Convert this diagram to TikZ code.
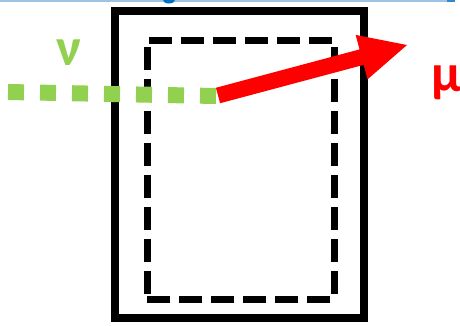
\documentclass[tikz,border=0pt]{standalone}
\usepackage{fontspec}
\setmainfont{Carlito}
\usetikzlibrary{calc}
\definecolor{nugreen}{RGB}{146,208,80}
\definecolor{mured}{RGB}{255,0,0}
\definecolor{toplight}{RGB}{157,195,230}
\definecolor{topblue}{RGB}{0,112,192}
\tikzset{
  outerbox/.style={draw=black, line width=7.5pt, rectangle, inner sep=0pt, fill=none},
  innerbox/.style={draw=black, line width=7pt, rectangle, inner sep=0pt, dash pattern=on 23pt off 9pt},
  nuline/.style={draw=nugreen, line width=16pt, dash pattern=on 16pt off 16pt},
  lbl/.style={inner sep=0pt, font=\fontsize{53}{55}\selectfont\bfseries},
}
\begin{document}
\begin{tikzpicture}[x=1pt,y=-1pt]
\useasboundingbox (0,0) rectangle (460,325);
\clip (0,0) rectangle (460,325);
% cropped fragments at the top edge
\fill[toplight] (0,0) rectangle (455,1.6);
\fill[topblue] (163,0) arc[start angle=180, end angle=360, x radius=6pt, y radius=3.5pt] -- cycle;
\fill[topblue!70!toplight] (447,0) rectangle (455,1.6);
% detector boxes
\node[outerbox, minimum width=249pt, minimum height=307pt] (det) at (239.5,164.5) {};
\node[innerbox, minimum width=187pt, minimum height=259pt] (fid) at (240.5,169.5) {};
% neutrino and muon
\coordinate (nustart) at (8,92);
\coordinate (vtx) at (218,95.5);
\coordinate (tip) at (407,45);
\draw[nuline] (nustart) -- (216,96);
\coordinate (base) at ($(tip)!47pt!(vtx)$);
\fill[mured] ($(vtx)!8pt!90:(tip)$) -- ($(base)!8pt!-90:(vtx)$) -- ($(base)!23pt!-90:(vtx)$) -- (tip)
   -- ($(base)!23pt!90:(vtx)$) -- ($(base)!8pt!90:(vtx)$) -- ($(vtx)!8pt!-90:(tip)$) -- cycle;
\node[lbl, text=nugreen, anchor=base west] (nu) at (56,65) {ν};
\node[lbl, text=mured, anchor=base west] (mu) at (431,91) {μ};
\end{tikzpicture}
\end{document}
